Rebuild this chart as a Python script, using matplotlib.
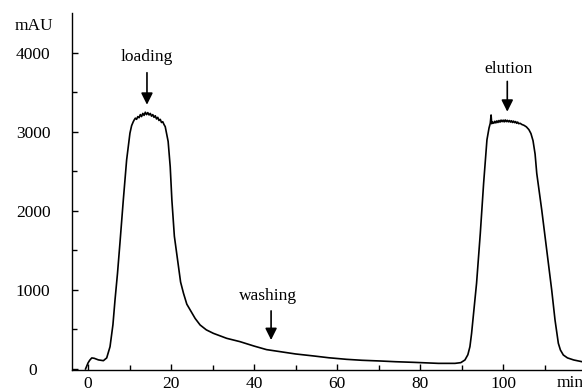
import matplotlib
matplotlib.use("Agg")
import matplotlib.pyplot as plt

# chromatogram trace (time in min, absorbance in mAU)
time = [-0.6, 0.0, 0.4, 0.9, 1.5, 2.5, 3.7, 4.5, 5.3, 6.0, 6.5, 7.1, 7.7, 8.5, 9.3, 10.1, 10.5, 10.9,
        11.1, 11.4, 11.7, 12.0, 12.3, 12.6, 12.9, 13.2, 13.5, 13.8, 14.1, 14.4, 14.7,
        15.0, 15.3, 15.6, 15.9, 16.2, 16.5, 16.8, 17.1, 17.4, 17.7, 18.0, 18.3, 18.6,
        19.0, 19.3, 19.8, 20.2, 20.8, 21.8, 22.3, 23.0, 23.8, 24.6, 25.8, 27.0, 28.5, 30.2,
        33.4, 36.6, 40.0, 43.0, 46.3, 50.0, 54.3, 58.0, 62.3, 66.0, 70.4, 74.0, 78.4, 84.4,
        88.4, 89.8, 90.8, 91.5, 92.0, 92.4, 92.8, 93.6, 94.5, 95.3, 96.1, 96.6, 96.9, 97.1,
        97.25, 97.5, 97.75, 98.0, 98.25, 98.5, 98.75, 99.0, 99.25, 99.5, 99.75, 100.0, 100.25,
        100.5, 100.75, 101.0, 101.25, 101.5, 101.75, 102.0, 102.25, 102.5, 102.75, 103.0,
        103.25, 103.5, 103.75, 104.1, 104.5, 105.0, 105.6, 106.2, 106.7, 107.2, 107.7, 108.1,
        109.3, 110.5, 111.7, 112.5, 113.3, 113.8, 114.5, 115.5, 117.0, 119.0, 119.5]
absorbance = [0, 76, 110, 140, 135, 115, 105, 140, 282, 560, 873, 1210, 1600, 2139, 2646, 2985, 3080, 3130,
              3150, 3175, 3160, 3195, 3180, 3220, 3195, 3235, 3210, 3250, 3220, 3245, 3215,
              3235, 3200, 3220, 3185, 3205, 3165, 3185, 3145, 3160, 3120, 3130, 3095, 3067,
              2960, 2880, 2560, 2139, 1680, 1295, 1100, 958, 820, 747, 640, 557, 495, 451,
              388, 346, 290, 245, 219, 190, 165, 142, 122, 110, 101, 92, 84, 71,
              71, 80, 114, 180, 282, 450, 662, 1085, 1717, 2350, 2900, 3050, 3110, 3215,
              3105, 3125, 3110, 3135, 3115, 3140, 3120, 3145, 3125, 3150, 3130, 3150, 3128,
              3152, 3130, 3148, 3128, 3145, 3125, 3142, 3120, 3138, 3118, 3132,
              3110, 3125, 3105, 3110, 3095, 3085, 3065, 3030, 2980, 2890, 2720, 2476,
              2013, 1506, 1000, 620, 325, 240, 177, 140, 114, 92, 90]

x_ticks = [0, 20, 40, 60, 80, 100]
y_ticks = [0, 1000, 2000, 3000, 4000]

# annotations: label, text position, arrow tail, arrow tip
notes = [
    ("loading", (14.2, 3950), (14.2, 3750), (14.2, 3345)),
    ("washing", (43.4, 925), (44.1, 735), (44.1, 367)),
    ("elution", (101.2, 3800), (101.0, 3640), (101.0, 3257)),
]

plt.rcParams['font.family'] = ['Liberation Serif', 'DejaVu Serif']
plt.rcParams['font.size'] = 12.5

fig = plt.figure(figsize=(5.82, 3.91), dpi=100)
ax = fig.add_axes([72 / 582, 21 / 391, 510 / 582, 357 / 391])

ax.plot(time, absorbance, color='black', lw=1.2)

ax.set_xlim(-3.86, 119.0)
ax.set_ylim(-13, 4506)

ax.spines['top'].set_visible(False)
ax.spines['right'].set_visible(False)
ax.spines['left'].set_linewidth(1.0)
ax.spines['bottom'].set_linewidth(1.0)

ax.set_xticks(x_ticks)
ax.set_xticks(range(10, 120, 20), minor=True)
ax.set_yticks(y_ticks)
ax.set_yticks(range(500, 4500, 1000), minor=True)
ax.tick_params(which='both', direction='in', width=1.0)
ax.tick_params(which='major', length=4)
ax.tick_params(which='minor', length=3.5)
ax.tick_params(axis='y', which='major', pad=28)
ax.tick_params(axis='x', which='major', pad=4)
for lbl in ax.get_yticklabels():
    lbl.set_horizontalalignment('center')

ax.text(-13.0, 4345, "mAU", ha='center', va='center', clip_on=False)
ax.text(112.8, -0.036, "min", ha='left', va='center',
        transform=ax.get_xaxis_transform(), clip_on=False)

for label, txt_pos, tail, tip in notes:
    ax.text(txt_pos[0], txt_pos[1], label, ha='center', va='center')
    ax.annotate('', xy=tip, xytext=tail,
                arrowprops=dict(arrowstyle='-|>,head_length=0.7,head_width=0.35',
                                color='black', lw=1.2, shrinkA=0, shrinkB=0,
                                mutation_scale=10))

fig.savefig("out.png", dpi=100)
